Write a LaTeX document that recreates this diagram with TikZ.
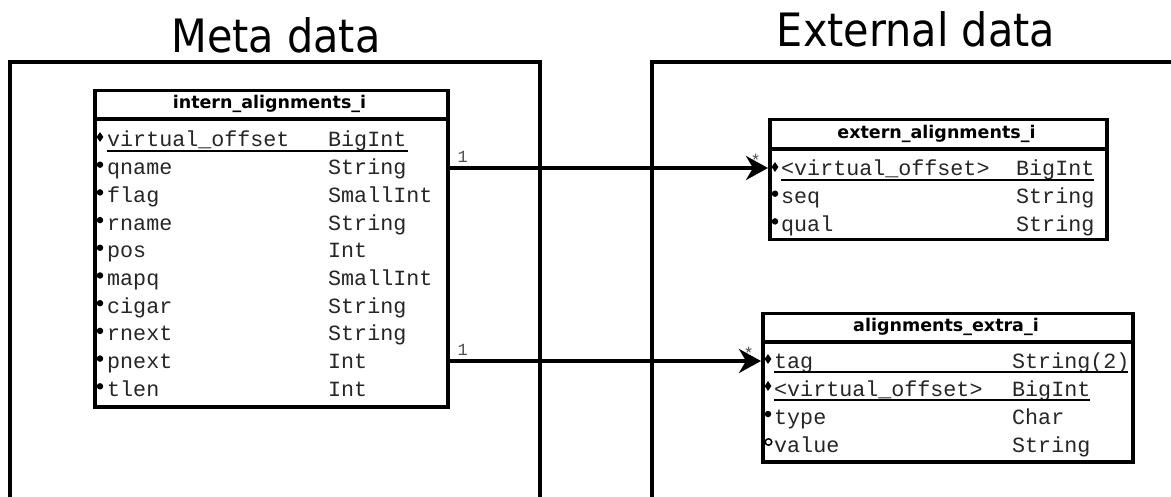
\documentclass[tikz,border=0pt]{standalone}
\usepackage{fontspec}
\usetikzlibrary{shapes.geometric,arrows.meta,calc}
\newfontfamily\titlefnt{DejaVu Sans}[FakeStretch=0.9]
\newfontfamily\hdrfnt{DejaVu Sans}
\newfontfamily\rowfnt{Liberation Mono}
\tikzset{
  titletext/.style={font=\titlefnt\fontsize{46}{50}\selectfont, anchor=base, inner sep=0pt},
  area/.style={line width=3.5pt},
  tbl/.style={draw, line width=3.5pt, fill=white, inner sep=0pt, anchor=north west},
  sepline/.style={line width=3.5pt},
  hdr/.style={font=\hdrfnt\bfseries\fontsize{17.5}{20}\selectfont, inner sep=0pt},
  fld/.style={font=\rowfnt\fontsize{21.7}{24}\selectfont, text=black!85, anchor=base west, inner sep=0pt},
  dotm/.style={circle, fill, minimum size=6.5pt, inner sep=0pt},
  keym/.style={diamond, fill, minimum width=7pt, minimum height=10pt, inner sep=0pt},
  optm/.style={circle, draw, line width=1.5pt, minimum size=6.5pt, inner sep=0pt},
  uline/.style={line width=1.2pt},
  conn/.style={line width=3.5pt, -{Stealth[length=22pt,width=24pt,inset=7pt]}},
  mult/.style={font=\rowfnt\fontsize{17}{18}\selectfont, text=black!70, inner sep=0pt},
}
\begin{document}
\begin{tikzpicture}[x=1pt,y=-1pt]
\useasboundingbox (0,0) rectangle (1171,497);
\clip (0,0) rectangle (1171,497);
% areas
\draw[area] (10,510) -- (10,62) -- (540,62) -- (540,510);
\draw[area] (652,510) -- (652,62) -- (1185,62);
\node[titletext] (tmeta) at (276,53) {Meta data};
\node[titletext] (text) at (916,47) {External data};

% intern table
\node[tbl, minimum width=353pt, minimum height=316pt] (intern) at (93,89) {};
\draw[sepline] ([yshift=-30pt]intern.north west) -- ([yshift=-30pt]intern.north east);
\node[hdr] (intern-h) at (269.5,104) {intern\_alignments\_i};
\node[keym] (im0) at (100,137) {};
\node[fld] (in0) at (107,147) {virtual\_offset};
\node[fld] (it0) at (328,147) {BigInt};
\draw[uline] (107,151) -- (408,151);
\foreach \n/\t/\k in {qname/String/1, flag/SmallInt/2, rname/String/3, pos/Int/4, mapq/SmallInt/5, cigar/String/6, rnext/String/7, pnext/Int/8, tlen/Int/9} {
  \node[dotm] (im\k) at (100,{147+27.7*\k-10}) {};
  \node[fld] (in\k) at (107,{147+27.7*\k}) {\n};
  \node[fld] (it\k) at (328,{147+27.7*\k}) {\t};
}

% extern table
\node[tbl, minimum width=337pt, minimum height=120pt] (ext) at (768,118) {};
\draw[sepline] ([yshift=-31pt]ext.north west) -- ([yshift=-31pt]ext.north east);
\node[hdr] (ext-h) at (936.5,134) {extern\_alignments\_i};
\node[keym] (em0) at (775,167) {};
\node[fld] (en0) at (781,176) {<virtual\_offset>};
\node[fld] (et0) at (1016,176) {BigInt};
\draw[uline] (781,180) -- (1094,180);
\node[dotm] (em1) at (775,193.7) {};
\node[fld] (en1) at (781,203.7) {seq};
\node[fld] (et1) at (1016,203.7) {String};
\node[dotm] (em2) at (775,221.4) {};
\node[fld] (en2) at (781,231.4) {qual};
\node[fld] (et2) at (1016,231.4) {String};

% alignments_extra table
\node[tbl, minimum width=370pt, minimum height=148pt] (extra) at (761,312) {};
\draw[sepline] ([yshift=-30pt]extra.north west) -- ([yshift=-30pt]extra.north east);
\node[hdr] (extra-h) at (946,327) {alignments\_extra\_i};
\node[keym] (xm0) at (768,359) {};
\node[fld] (xn0) at (774,368) {tag};
\node[fld] (xt0) at (1012,368) {String(2)};
\draw[uline] (774,372) -- (1128,372);
\node[keym] (xm1) at (768,386) {};
\node[fld] (xn1) at (774,396) {<virtual\_offset>};
\node[fld] (xt1) at (1012,396) {BigInt};
\draw[uline] (774,400) -- (1090,400);
\node[dotm] (xm2) at (768,414) {};
\node[fld] (xn2) at (774,424) {type};
\node[fld] (xt2) at (1012,424) {Char};
\node[optm] (xm3) at (768.5,442) {};
\node[fld] (xn3) at (774,452) {value};
\node[fld] (xt3) at (1012,452) {String};

% connectors
\draw[conn] ([yshift=-1pt]intern.east |- em0) -- ([yshift=-1pt]ext.west |- em0);
\draw[conn] ([yshift=-2pt]intern.east |- xm0) -- ([yshift=-2pt]extra.west |- xm0);
\node[mult, anchor=south west] (m1a) at ([xshift=8pt,yshift=4pt]intern.east |- em0) {1};
\node[mult, anchor=south east] (m1b) at ([xshift=-7pt,yshift=0pt]ext.west |- em0) {*};
\node[mult, anchor=south west] (m2a) at ([xshift=8pt,yshift=3pt]intern.east |- xm0) {1};
\node[mult, anchor=south east] (m2b) at ([xshift=-7pt,yshift=-1pt]extra.west |- xm0) {*};
\end{tikzpicture}
\end{document}
